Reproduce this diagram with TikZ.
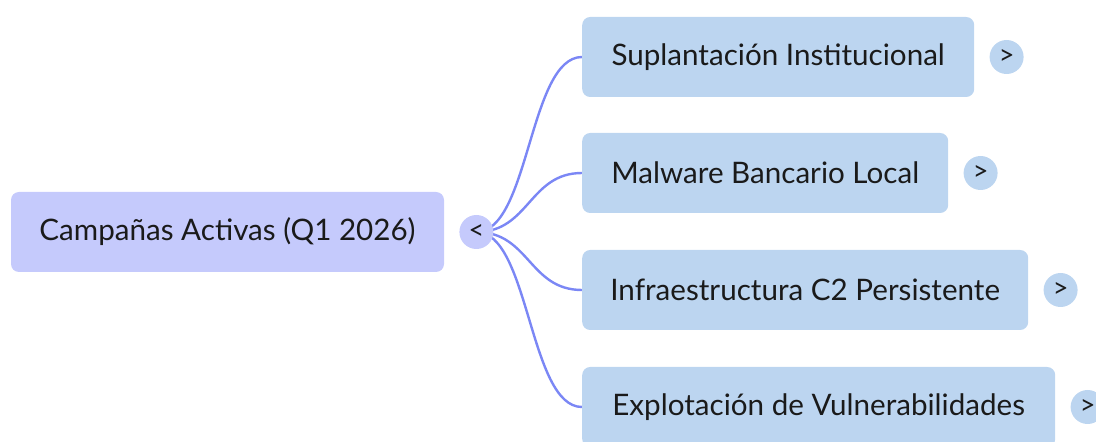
\documentclass[tikz,border=0pt]{standalone}
\usepackage{fontspec}
\setmainfont{Lato}
\usetikzlibrary{positioning, backgrounds}

\definecolor{rootfill}{RGB}{197,202,252}
\definecolor{leaffill}{RGB}{188,213,240}
\definecolor{linkblue}{RGB}{123,135,245}
\definecolor{inkgray}{RGB}{26,26,26}

\begin{document}
\begin{tikzpicture}[x=1pt, y=1pt, node distance=15pt,
  rootbox/.style={rectangle, rounded corners=8pt, fill=rootfill, text=inkgray,
    minimum height=80pt, inner xsep=0pt, font=\fontsize{29.6}{34}\selectfont},
  leafbox/.style={rectangle, rounded corners=8pt, fill=leaffill, text=inkgray,
    minimum height=80pt, inner xsep=0pt, anchor=west, font=\fontsize{29.6}{34}\selectfont},
  rootdot/.style={circle, fill=rootfill, text=inkgray, minimum size=34pt,
    inner sep=0pt, font=\fontsize{27}{28}\selectfont},
  leafdot/.style={circle, fill=leaffill, text=inkgray, minimum size=34pt,
    inner sep=0pt, font=\fontsize{27}{28}\selectfont},
  link/.style={draw=linkblue, line width=2.4pt}]
  \useasboundingbox (0,0) rectangle (1096,442);

  % root and its toggle
  \node[rootbox, minimum width=433pt] (root) at (227.5,210) {Campañas Activas (Q1 2026)};
  \node[rootdot] (rdot) [right=of root] {<};

  % children
  \node[leafbox, minimum width=392pt] (sup) at (582,385) {Suplantación Institucional};
  \node[leafbox, minimum width=366pt] (mal) at (582,269) {Malware Bancario Local};
  \node[leafbox, minimum width=446pt] (inf) at (582,152) {Infraestructura C2 Persistente};
  \node[leafbox, minimum width=473pt] (exp) at (582,35) {Explotación de Vulnerabilidades};

  \node[leafdot] (supdot) [right=of sup] {>};
  \node[leafdot] (maldot) [right=of mal] {>};
  \node[leafdot] (infdot) [right=of inf] {>};
  \node[leafdot] (expdot) [right=of exp] {>};

  % links, behind the toggle
  \begin{scope}[on background layer]
    \foreach \leaf in {sup, mal, inf, exp}
      \draw[link] (rdot.center) .. controls +(53,0) and +(-53,0) .. (\leaf.west);
  \end{scope}
\end{tikzpicture}
\end{document}
